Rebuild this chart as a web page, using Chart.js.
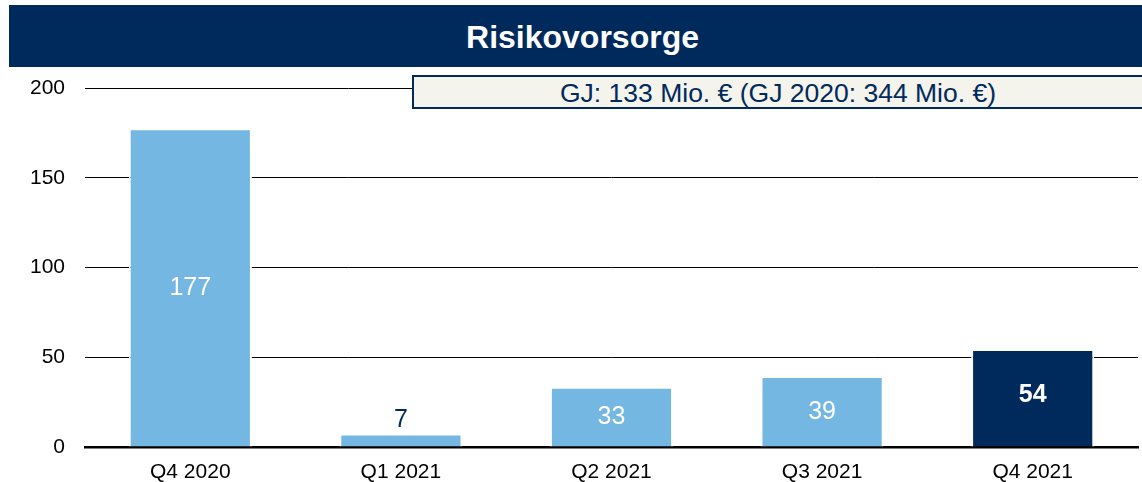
<!DOCTYPE html>
<html>
<head>
<meta charset="utf-8">
<script src="https://cdn.jsdelivr.net/npm/chart.js@4"></script>
<style>
  html, body { margin: 0; padding: 0; background: #fff; }
  #wrap { position: relative; width: 1142px; height: 482px; overflow: hidden; }
  #chart { position: absolute; left: 0; top: 0; }
  #banner {
    position: absolute; left: 9px; top: 5px; width: 1133px; height: 62px;
    background: #002a5c; color: #fff; font: bold 32px "Liberation Sans", Arial, sans-serif;
    line-height: 64px; text-align: center; text-indent: 14px;
  }
  #note {
    position: absolute; left: 412px; top: 75px; width: 730px; height: 34px;
    background: #f4f3ec; border: 2px solid #002a5c; border-right: none; box-sizing: border-box;
    color: #002a5c; font: 26.5px "Liberation Sans", Arial, sans-serif;
    line-height: 32px; text-align: center; white-space: nowrap;
  }
</style>
</head>
<body>
<div id="wrap">
  <canvas id="chart" width="1142" height="482"></canvas>
  <div id="banner">Risikovorsorge</div>
  <div id="note">GJ: 133 Mio. € (GJ 2020: 344 Mio. €)</div>
</div>
<script>
const quarters = ['Q4 2020', 'Q1 2021', 'Q2 2021', 'Q3 2021', 'Q4 2021']
const provisions = [177, 7, 33, 39, 54]
const yTicks = [0, 50, 100, 150, 200]

const lightBlue = '#74b7e2'
const navy = '#002a5c'

// value labels: inside the bar, or above it when the bar is too short
const valueLabels = {
    id: 'valueLabels',
    afterDatasetsDraw(chart) {
        const ctx = chart.ctx
        const meta = chart.getDatasetMeta(0)
        ctx.save()
        ctx.textAlign = 'center'
        ctx.textBaseline = 'middle'
        meta.data.forEach((bar, i) => {
            const last = i === provisions.length - 1
            const h = bar.base - bar.y
            ctx.font = (last ? 'bold ' : '') + '25px "Liberation Sans", Arial, sans-serif'
            if (h < 30) {
                ctx.fillStyle = navy
                ctx.fillText(provisions[i], bar.x, bar.y - 14)
            } else {
                ctx.fillStyle = '#fff'
                ctx.fillText(provisions[i], bar.x, (bar.y + bar.base) / 2 - (last ? 3 : 0))
            }
        })
        ctx.restore()
    }
}

new Chart(document.getElementById('chart'), {
    type: 'bar',
    data: {
        labels: quarters,
        datasets: [{
            data: provisions,
            backgroundColor: provisions.map((v, i) => i === provisions.length - 1 ? navy : lightBlue),
            borderColor: '#fff',
            borderWidth: { left: 2, right: 2, top: 1, bottom: 0 },
            borderSkipped: 'bottom',
            categoryPercentage: 1,
            barPercentage: 0.585
        }]
    },
    options: {
        responsive: false,
        animation: false,
        layout: { padding: { top: 88, right: 4, left: 0, bottom: 0 } },
        plugins: { legend: { display: false }, tooltip: { enabled: false }, title: { display: false } },
        scales: {
            x: {
                grid: { display: false },
                border: { display: true, color: '#000', width: 2.5 },
                ticks: { color: '#000', font: { size: 21, family: '"Liberation Sans", Arial' }, padding: 5 },
                afterFit: s => { s.height = 35 }
            },
            y: {
                min: 0, max: 200,
                afterBuildTicks: s => { s.ticks = yTicks.map(v => ({ value: v })) },
                grid: { color: '#000', lineWidth: 1, drawTicks: false },
                border: { display: false },
                ticks: { color: '#000', font: { size: 21, family: '"Liberation Sans", Arial' }, padding: 20 },
                afterFit: s => { s.width = 85 }
            }
        }
    },
    plugins: [valueLabels]
})
</script>
</body>
</html>
